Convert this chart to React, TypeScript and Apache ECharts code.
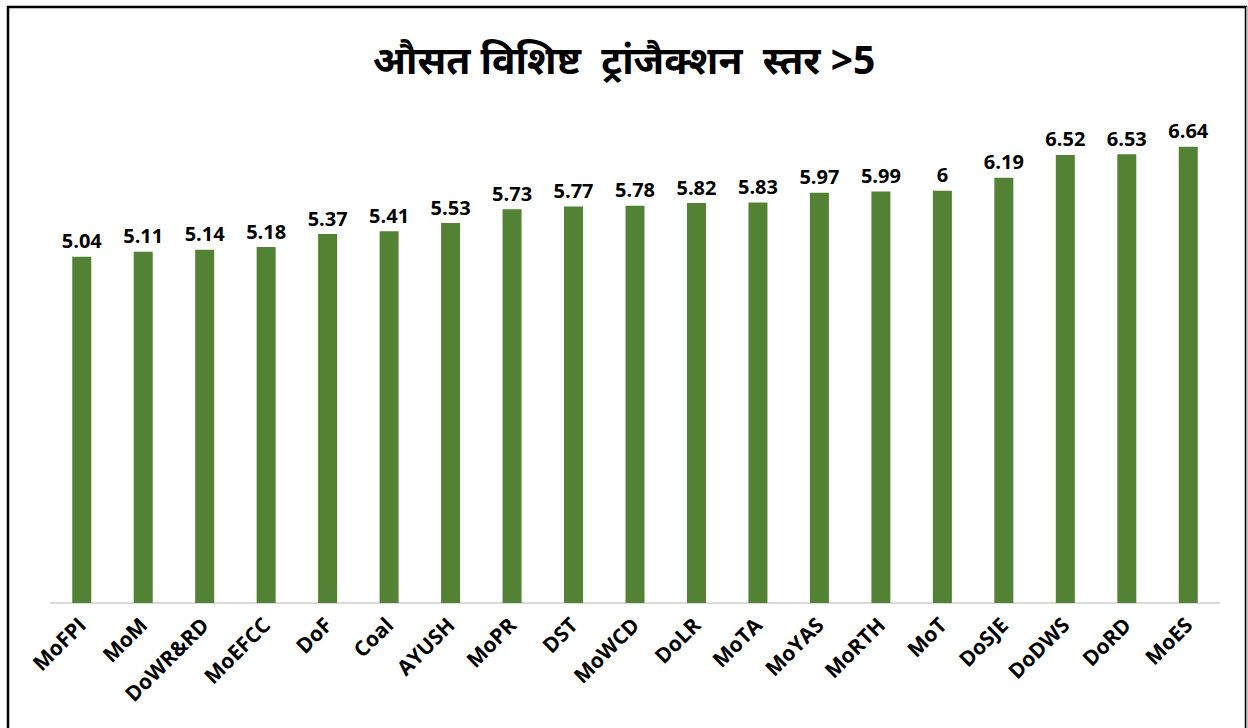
import React, { useEffect, useRef } from "react";
import * as echarts from "echarts";

const categories = ["MoFPI", "MoM", "DoWR&RD", "MoEFCC", "DoF", "Coal", "AYUSH", "MoPR", "DST", "MoWCD", "DoLR", "MoTA", "MoYAS", "MoRTH", "MoT", "DoSJE", "DoDWS", "DoRD", "MoES"];
const values = [5.04, 5.11, 5.14, 5.18, 5.37, 5.41, 5.53, 5.73, 5.77, 5.78, 5.82, 5.83, 5.97, 5.99, 6, 6.19, 6.52, 6.53, 6.64];
const titleText = "औसत विशिष्ट  ट्रांजैक्शन  स्तर >5";

const FONT = "'Open Sans', 'Noto Sans', 'DejaVu Sans', sans-serif";

export default function App() {
  const ref = useRef<HTMLDivElement>(null);
  useEffect(() => {
    const chart = echarts.init(ref.current!, null, { renderer: "svg" });
    chart.setOption({
      animation: false,
      backgroundColor: "#ffffff",
      title: {
        text: titleText,
        left: "center",
        top: 34,
        textStyle: { fontSize: 39, fontWeight: "bold", color: "#000", fontFamily: FONT },
      },
      graphic: [
        {
          type: "rect",
          shape: { x: 8, y: 7, width: 1238, height: 740 },
          style: { fill: "none", stroke: "#000", lineWidth: 2.5 },
          silent: true,
          z: 100,
        },
        {
          type: "line",
          shape: { x1: 1246.5, y1: 7, x2: 1246.5, y2: 728 },
          style: { stroke: "#a6a6a6", lineWidth: 1 },
          silent: true,
          z: 101,
        },
      ],
      grid: { left: 51, right: 29, top: 122, bottom: 125, containLabel: false },
      xAxis: {
        type: "category",
        data: categories,
        axisLine: { lineStyle: { color: "#d9d9d9", width: 2 } },
        axisTick: { show: false },
        axisLabel: {
          interval: 0,
          rotate: 45,
          margin: 18,
          fontSize: 21,
          fontWeight: "bold",
          color: "#000",
          fontFamily: FONT,
        },
      },
      yAxis: {
        type: "value",
        min: 0,
        max: 7,
        show: false,
        splitLine: { show: false },
      },
      series: [
        {
          type: "bar",
          data: values,
          barWidth: 19,
          itemStyle: { color: "#548235" },
          label: {
            show: true,
            position: "top",
            distance: 6,
            fontSize: 20,
            fontWeight: "bold",
            color: "#000",
            fontFamily: FONT,
          },
        },
      ],
    });
    return () => chart.dispose();
  }, []);
  return (
    <div style={{ position: "fixed", left: 0, top: 0, width: 1248, height: 728 }}>
      <div ref={ref} style={{ width: 1248, height: 728 }} />
    </div>
  );
}
